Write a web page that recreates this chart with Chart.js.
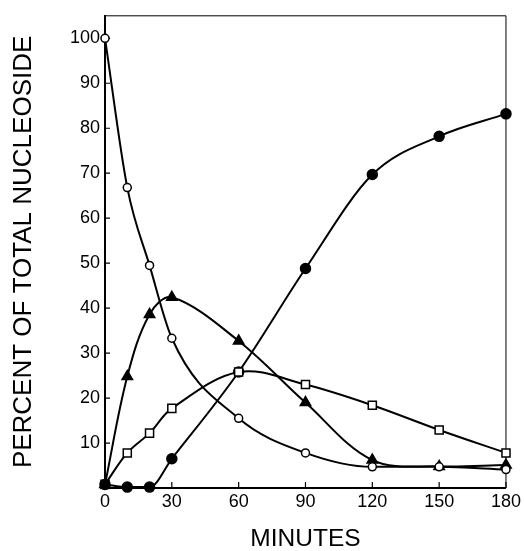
<!DOCTYPE html>
<html>
<head>
<meta charset="utf-8">
<script src="https://cdn.jsdelivr.net/npm/chart.js@4/dist/chart.umd.min.js"></script>
<style>
  html, body { margin: 0; padding: 0; background: #fff; }
  #wrap { width: 524px; height: 551px; }
</style>
</head>
<body>
<div id="wrap"><canvas id="chart" width="524" height="551"></canvas></div>
<script>
// minutes sampled
const minutes = [0, 10, 20, 30, 60, 90, 120, 150, 180];
// percent of total nucleoside
const openCircles   = [100, 66.8, 49.5, 33.3, 15.5, 7.8, 4.7, 4.7, 4.1];
const filledTriangles = [0.8, 24.8, 38.6, 42.4, 32.7, 19.0, 6.2, 4.8, 5.1];
const openSquares   = [0.8, 7.8, 12.2, 17.7, 25.8, 23.0, 18.4, 12.9, 7.8];
const filledCircles = [0.8, 0.2, 0.2, 6.5, 25.8, 48.8, 69.7, 78.2, 83.2];
const xTicks = [0, 30, 60, 90, 120, 150, 180];
const yTicks = [10, 20, 30, 40, 50, 60, 70, 80, 90, 100];

const FONT = "'Liberation Sans', Arial, Helvetica, sans-serif";
const pts = arr => arr.map((v, i) => ({x: minutes[i], y: v}));

// base style shared by all series
function series(data, style, radius, filled, smooth) {
    const d = {
        data: pts(data),
        borderColor: '#000',
        borderWidth: 2,
        pointStyle: style,
        pointRadius: radius,
        pointBorderWidth: 1.5,
        pointBorderColor: '#000',
        pointBackgroundColor: filled ? '#000' : '#fff',
        clip: false
    };
    if (smooth) d.tension = smooth;
    else d.cubicInterpolationMode = 'monotone';
    return d;
}

// inner tick marks + thin top/right frame
const frame = {
    id: 'frame',
    beforeDatasetsDraw(chart) {
        const {ctx, chartArea: a, scales: {x, y}} = chart;
        ctx.save();
        ctx.strokeStyle = '#000';
        ctx.lineWidth = 1;
        ctx.beginPath();
        ctx.moveTo(a.left, a.top);
        ctx.lineTo(a.right, a.top);
        ctx.lineTo(a.right, a.bottom);
        ctx.stroke();
        ctx.lineWidth = 1.2;
        ctx.beginPath();
        xTicks.forEach(v => {
            if (v === 0) return;
            const px = x.getPixelForValue(v);
            ctx.moveTo(px, a.bottom);
            ctx.lineTo(px, a.bottom - 6);
        });
        yTicks.forEach(v => {
            const py = y.getPixelForValue(v);
            ctx.moveTo(a.left, py);
            ctx.lineTo(a.left + 5, py);
        });
        ctx.stroke();
        ctx.restore();
    }
};

const sqData = series(openSquares, 'rect', 5.7, false, 0.35);
sqData.pointBackgroundColor = c => c.dataIndex === 0 ? '#000' : '#fff';

new Chart(document.getElementById('chart').getContext('2d'), {
    type: 'line',
    data: {
        datasets: [
            series(openCircles, 'circle', 4, false),
            series(filledTriangles, 'triangle', 6, true, 0.35),
            sqData,
            series(filledCircles, 'circle', 5, true)
        ]
    },
    options: {
        responsive: false,
        animation: false,
        layout: {padding: {top: 11, right: 15, left: 0, bottom: 0}},
        plugins: {legend: {display: false}, tooltip: {enabled: false}},
        scales: {
            x: {
                type: 'linear',
                min: 0, max: 180,
                afterFit: s => { s.height = 63; },
                afterBuildTicks: s => { s.ticks = xTicks.map(v => ({value: v})); },
                grid: {display: false, drawTicks: false},
                border: {display: true, color: '#000', width: 2},
                ticks: {color: '#000', padding: 3, font: {family: FONT, size: 18}},
                title: {display: true, text: 'MINUTES', color: '#000',
                        padding: {top: 0, bottom: 0},
                        font: {family: FONT, size: 24.5, lineHeight: 1}}
            },
            y: {
                min: 0, max: 105,
                afterFit: s => { s.width = 105; },
                afterBuildTicks: s => { s.ticks = yTicks.map(v => ({value: v})); },
                grid: {display: false, drawTicks: false},
                border: {display: true, color: '#000', width: 2},
                ticks: {color: '#000', padding: 5, font: {family: FONT, size: 18}},
                title: {display: true, text: 'PERCENT OF TOTAL NUCLEOSIDE', color: '#000',
                        padding: {top: 11, bottom: 0},
                        font: {family: FONT, size: 26, lineHeight: 1}}
            }
        }
    },
    plugins: [frame]
});
</script>
</body>
</html>
